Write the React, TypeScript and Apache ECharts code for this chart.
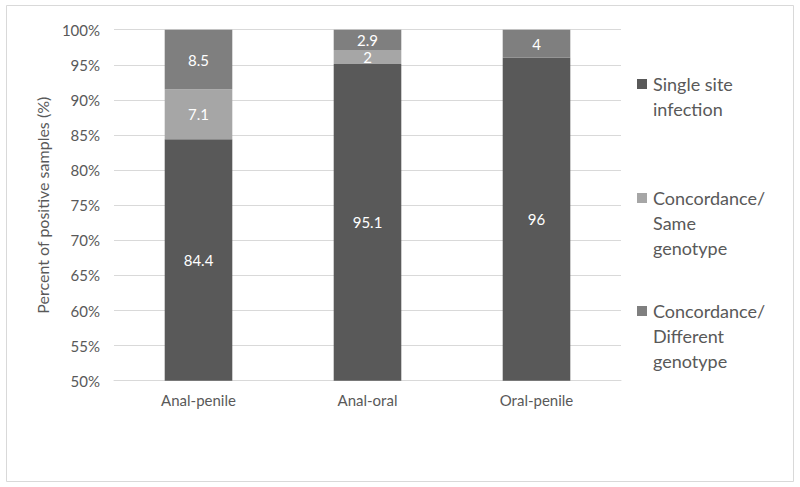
import React, { useEffect, useRef } from "react";
import * as echarts from "echarts";

const categories = ["Anal-penile", "Anal-oral", "Oral-penile"];
const singleSite = [84.4, 95.1, 96];
const sameGenotype = [7.1, 2, null];
const differentGenotype = [8.5, 2.9, 4];
const seriesNames = [
  "Single site infection",
  "Concordance/ Same genotype",
  "Concordance/ Different genotype",
];
const legendLines = [
  ["Single site", "infection"],
  ["Concordance/", "Same", "genotype"],
  ["Concordance/", "Different", "genotype"],
];
const colors = ["#595959", "#a6a6a6", "#7f7f7f"];
const yMin = 50;
const yMax = 100;
const yStep = 5;

const FONT = "Lato, 'Open Sans', sans-serif";
const TEXT = "#595959";

export default function App() {
  const ref = useRef<HTMLDivElement>(null);
  useEffect(() => {
    if (!ref.current) return;
    const chart = echarts.init(ref.current, undefined, { renderer: "svg" });
    const data = [singleSite, sameGenotype, differentGenotype];
    const legendTops = [75, 189, 302];
    const legends = seriesNames.map((name, i) => ({
      show: true,
      orient: "vertical",
      left: 637,
      top: legendTops[i],
      padding: 0,
      data: [name],
      icon: "rect",
      itemWidth: 0,
      itemHeight: 0,
      selectedMode: false,
      formatter: () =>
        legendLines[i]
          .map((l, j) => (j === 0 ? `{sq${i}|}{sg|}{t|${l}}` : `{sp|}{t|${l}}`))
          .join("\n"),
      textStyle: {
        padding: [0, 0, 0, -5],
        rich: {
          sq0: { width: 10, height: 10, backgroundColor: colors[0], verticalAlign: "middle" },
          sq1: { width: 10, height: 10, backgroundColor: colors[1], verticalAlign: "middle" },
          sq2: { width: 10, height: 10, backgroundColor: colors[2], verticalAlign: "middle" },
          sg: { width: 6, height: 10 },
          sp: { width: 16, height: 10 },
          t: { fontSize: 18, lineHeight: 25, color: TEXT, fontFamily: FONT, verticalAlign: "middle" },
        },
      },
    }));
    chart.setOption({
      animation: false,
      textStyle: { fontFamily: FONT },
      legend: legends,
      graphic: [
        {
          type: "rect",
          shape: { x: 6.5, y: 5.5, width: 787, height: 476 },
          style: { fill: "none", stroke: "#d9d9d9", lineWidth: 1 },
          silent: true,
        },
      ],
      grid: { left: 114, right: 179, top: 29.7, bottom: 106.3, containLabel: false },
      xAxis: {
        type: "category",
        data: categories,
        axisLine: { show: true, lineStyle: { color: "#d9d9d9", width: 1 } },
        axisTick: { show: false },
        axisLabel: { color: TEXT, fontSize: 15, margin: 12, fontFamily: FONT },
      },
      yAxis: {
        type: "value",
        min: yMin,
        max: yMax,
        interval: yStep,
        name: "Percent of positive samples (%)",
        nameLocation: "middle",
        nameGap: 62,
        nameTextStyle: { color: TEXT, fontSize: 16, fontFamily: FONT },
        axisLine: { show: false },
        axisTick: { show: false },
        axisLabel: { color: TEXT, fontSize: 15, margin: 14, formatter: "{value}%", fontFamily: FONT },
        splitLine: { lineStyle: { color: "#d9d9d9", width: 1 } },
      },
      series: seriesNames.map((name, i) => ({
        name,
        type: "bar",
        stack: "total",
        data: data[i],
        barWidth: "40%",
        itemStyle: { color: colors[i] },
        label: {
          show: true,
          position: "inside",
          color: "#ffffff",
          fontSize: 15,
          fontFamily: FONT,
        },
      })),
    });
    return () => chart.dispose();
  }, []);
  return (
    <div
      ref={ref}
      style={{ position: "fixed", left: 0, top: 0, width: 800, height: 487, background: "#fff" }}
    />
  );
}
